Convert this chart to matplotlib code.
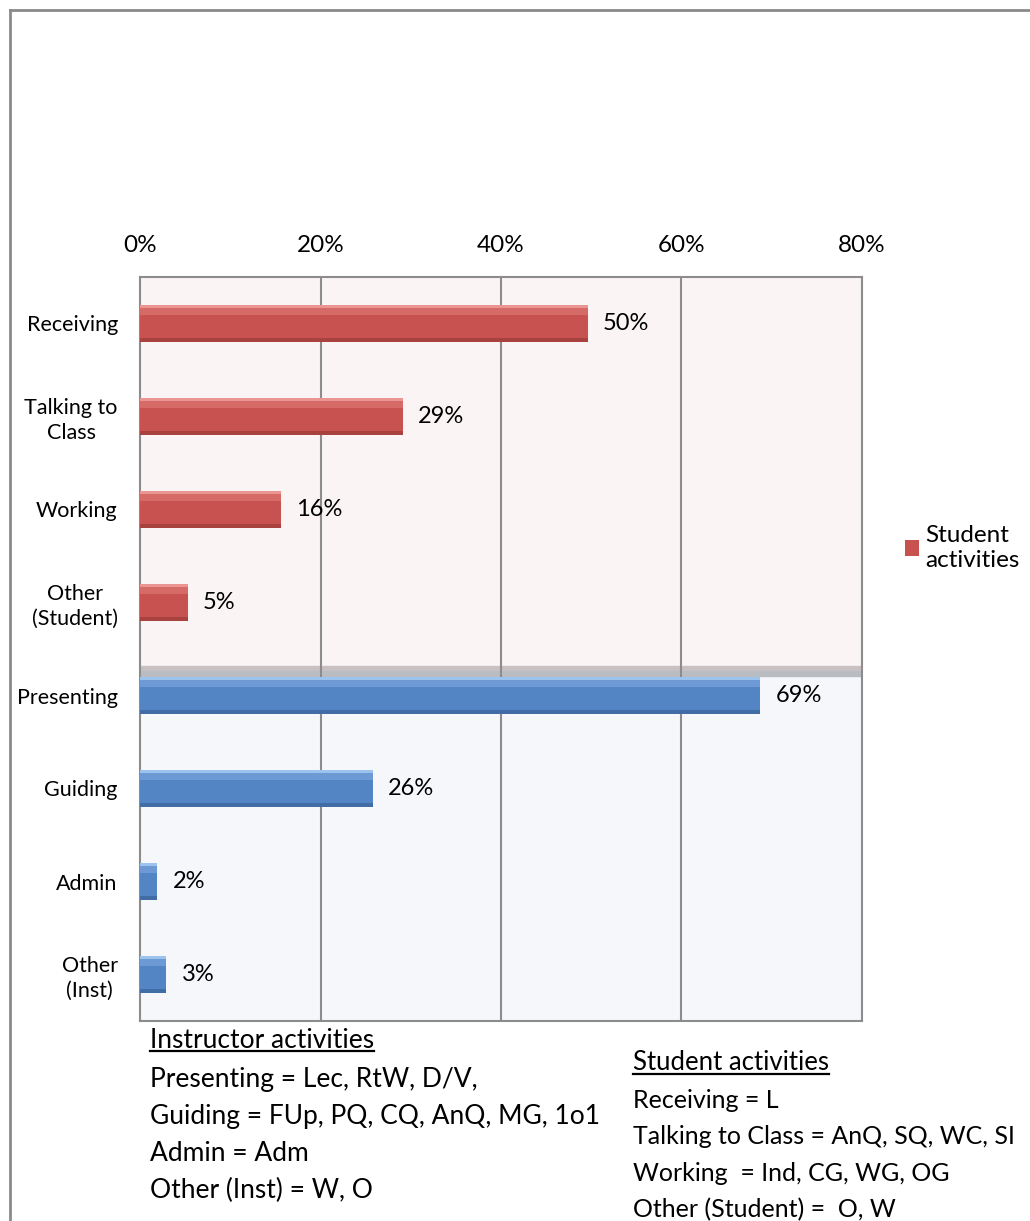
import matplotlib
matplotlib.use("Agg")
import matplotlib.pyplot as plt
from matplotlib.lines import Line2D
import numpy as np

plt.rcParams['font.family'] = ['Lato', 'DejaVu Sans']

# data
categories = ["Receiving", "Talking to\nClass", "Working", "Other\n(Student)",
              "Presenting", "Guiding", "Admin", "Other\n(Inst)"]
values = [49.6, 29.1, 15.6, 5.3, 68.7, 25.8, 1.9, 2.9]
groups = ["student"] * 4 + ["instructor"] * 4
xticks = [0, 20, 40, 60, 80]

instructor_notes = ["Presenting = Lec, RtW, D/V,",
                    "Guiding = FUp, PQ, CQ, AnQ, MG, 1o1",
                    "Admin = Adm",
                    "Other (Inst) = W, O"]
student_notes = ["Receiving = L",
                 "Talking to Class = AnQ, SQ, WC, SI",
                 "Working  = Ind, CG, WG, OG",
                 "Other (Student) =  O, W"]

W, H = 1030, 1221
fig = plt.figure(figsize=(W / 100, H / 100), dpi=100)
ax = fig.add_axes([140 / W, 1 - 1021 / H, 722 / W, 744 / H])

y = np.arange(len(categories))
stud = [i for i, g in enumerate(groups) if g == "student"]
inst = [i for i, g in enumerate(groups) if g == "instructor"]
sv = [values[i] for i in stud]
iv = [values[i] for i in inst]

# backgrounds (pink for students, blue for instructors, grey floor band)
ax.axhspan(-0.5, 3.68, color="#FAF4F4", zorder=0)
ax.axhspan(3.68, 3.735, color="#C9C1C1", zorder=0.5)
ax.axhspan(3.735, 3.79, color="#B9BDC2", zorder=0.5)
ax.axhspan(3.79, 7.5, color="#F5F7FB", zorder=0)

for xv in xticks[1:-1]:
    ax.axvline(xv, color="#8C8C8C", lw=1.5, zorder=1)

bh = 0.4
red = ax.barh(stud, sv, height=bh, color="#C8524F", zorder=3)
ax.barh(np.array(stud) - bh * 0.32, sv, height=bh * 0.2, color="#D66A67", zorder=4, lw=0)
ax.barh(np.array(stud) - bh * 0.45, sv, height=bh * 0.08, color="#EB9592", zorder=4, lw=0)
ax.barh(np.array(stud) + bh * 0.45, sv, height=bh * 0.1, color="#A8423F", zorder=4, lw=0)
ax.barh(inst, iv, height=bh, color="#5385C4", zorder=3)
ax.barh(np.array(inst) - bh * 0.32, iv, height=bh * 0.2, color="#6D9AD4", zorder=4, lw=0)
ax.barh(np.array(inst) - bh * 0.45, iv, height=bh * 0.08, color="#9CC2EE", zorder=4, lw=0)
ax.barh(np.array(inst) + bh * 0.45, iv, height=bh * 0.1, color="#416DA6", zorder=4, lw=0)

for i, v in enumerate(values):
    ax.annotate(f"{round(v):.0f}%", (v, i), xytext=(11, 0), textcoords="offset points",
                va="center", ha="left", fontsize=17, zorder=5)

ax.set_xlim(0, 80)
ax.set_ylim(7.5, -0.5)
ax.set_yticks(y)
ax.set_yticklabels(categories, fontsize=15.5, ha="right", multialignment="center",
                   linespacing=1.3)
ax.tick_params(axis="y", length=0, pad=16)
ax.xaxis.tick_top()
ax.set_xticks(xticks)
ax.set_xticklabels([f"{t}%" for t in xticks], fontsize=17.5)
ax.tick_params(axis="x", length=0, pad=15)
for s in ax.spines.values():
    s.set_color("#8C8C8C")
    s.set_linewidth(1.5)

ax.legend([red], ["Student\nactivities"], loc="center left",
          bbox_to_anchor=(895 / W, 1 - 548 / H), bbox_transform=fig.transFigure,
          frameon=False, fontsize=17.5, handlelength=0.6, handleheight=0.6,
          handletextpad=0.25, borderaxespad=0)

# outer chart border (top and left only visible)
fig.add_artist(Line2D([9.5 / W, 1], [1 - 9.5 / H, 1 - 9.5 / H], color="#8A8A8A", lw=2))
fig.add_artist(Line2D([9.5 / W, 9.5 / W], [0, 1 - 9.5 / H], color="#8A8A8A", lw=2))

# notes under the chart
def header(x, ytop, text, size):
    t = fig.text(x / W, 1 - ytop / H, text, fontsize=size, va="center", ha="left")
    fig.canvas.draw()
    bb = t.get_window_extent()
    fig.add_artist(Line2D([bb.x0 / W, bb.x1 / W], [(bb.y0 + 2) / H, (bb.y0 + 2) / H],
                          color="black", lw=1.6))

header(150, 1040, "Instructor activities", 19)
for k, line in enumerate(instructor_notes):
    fig.text(150 / W, 1 - (1080 + 36.7 * k) / H, line, fontsize=19, va="center", ha="left")

header(633, 1063, "Student activities", 18.5)
for k, line in enumerate(student_notes):
    fig.text(633 / W, 1 - (1100 + 36.7 * k) / H, line, fontsize=18, va="center", ha="left")

fig.savefig("out.png", dpi=100, facecolor="white")
